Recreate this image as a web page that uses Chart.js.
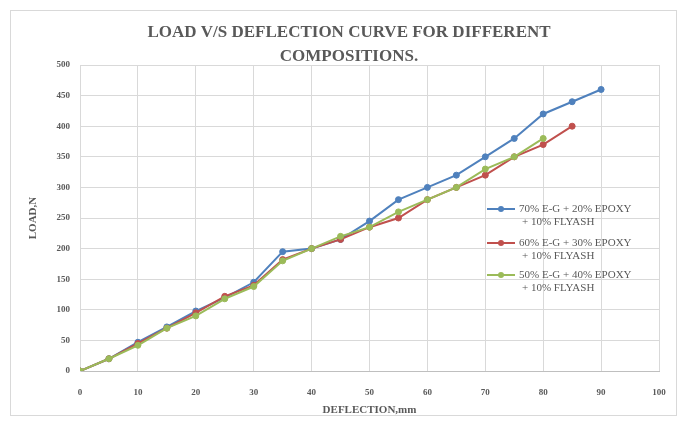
<!DOCTYPE html>
<html>
<head>
<meta charset="utf-8">
<title>Load vs Deflection</title>
<script src="https://cdn.jsdelivr.net/npm/chart.js@4/dist/chart.umd.min.js"></script>
<style>
  html, body { margin: 0; padding: 0; background: #ffffff; }
  #wrap { width: 686px; height: 425px; position: relative; }
</style>
</head>
<body>
<div id="wrap"><canvas id="chart" width="686" height="425"></canvas></div>
<script>
// Deflection (mm) at which each load reading was taken
const deflection = [0, 5, 10, 15, 20, 25, 30, 35, 40, 45, 50, 55, 60, 65, 70, 75, 80, 85, 90];

// Load (N) for each composition
const load70EG = [0, 20, 47, 72, 98, 120, 145, 195, 200, 215, 245, 280, 300, 320, 350, 380, 420, 440, 460];
const load60EG = [0, 20, 45, 70, 95, 122, 140, 182, 200, 215, 235, 250, 280, 300, 320, 350, 370, 400];
const load50EG = [0, 20, 42, 70, 90, 118, 138, 180, 200, 220, 235, 260, 280, 300, 330, 350, 380];

const seriesNames = [
  ['70% E-G + 20% EPOXY', '+ 10% FLYASH'],
  ['60% E-G + 30% EPOXY', '+ 10% FLYASH'],
  ['50% E-G + 40% EPOXY', '+ 10% FLYASH']
];
const seriesColors = ['#4F81BD', '#C0504D', '#9BBB59'];

const titleLines = ['LOAD V/S DEFLECTION CURVE FOR DIFFERENT', 'COMPOSITIONS.'];
const xTitle = 'DEFLECTION,mm';
const yTitle = 'LOAD,N';

const serif = "'Liberation Serif', 'Times New Roman', serif";
const textGray = '#595959';

function toPoints(values) {
  return values.map((v, i) => ({ x: deflection[i], y: v }));
}

// Chart frame, heading and the legend drawn over the plot
const framePlugin = {
  id: 'frame',
  beforeDraw(chart) {
    const ctx = chart.ctx;
    ctx.save();
    ctx.fillStyle = '#ffffff';
    ctx.fillRect(0, 0, chart.width, chart.height);
    ctx.strokeStyle = '#D9D9D9';
    ctx.lineWidth = 1;
    ctx.strokeRect(10.5, 10.5, 666, 405);
    ctx.fillStyle = textGray;
    ctx.font = 'bold 17px ' + serif;
    ctx.textAlign = 'center';
    ctx.textBaseline = 'middle';
    ctx.fillText(titleLines[0], 349, 33);
    ctx.fillText(titleLines[1], 349, 57);
    ctx.restore();
  },
  afterDraw(chart) {
    const ctx = chart.ctx;
    ctx.save();
    const rowY = [209, 243, 275];
    chart.data.datasets.forEach((ds, i) => {
      const y = rowY[i];
      ctx.strokeStyle = ds.borderColor;
      ctx.lineWidth = 2;
      ctx.beginPath();
      ctx.moveTo(487, y);
      ctx.lineTo(515, y);
      ctx.stroke();
      ctx.fillStyle = ds.backgroundColor;
      ctx.beginPath();
      ctx.arc(501, y, 3, 0, Math.PI * 2);
      ctx.fill();
      ctx.fillStyle = textGray;
      ctx.font = '11px ' + serif;
      ctx.textAlign = 'left';
      ctx.textBaseline = 'middle';
      seriesNames[i].forEach((line, j) => {
        ctx.fillText(line, j === 0 ? 519 : 522, y + j * 13);
      });
    });
    ctx.restore();
  }
};

const datasets = [load70EG, load60EG, load50EG].map((vals, i) => ({
  label: seriesNames[i].join(' '),
  data: toPoints(vals),
  borderColor: seriesColors[i],
  backgroundColor: seriesColors[i],
  pointBackgroundColor: seriesColors[i],
  pointBorderColor: seriesColors[i],
  pointRadius: 3,
  pointBorderWidth: 1,
  borderWidth: 2,
  tension: 0,
  order: 2 - i
}));

new Chart(document.getElementById('chart'), {
  type: 'line',
  data: { datasets },
  options: {
    responsive: false,
    animation: false,
    layout: { padding: { top: 65, right: 27, left: 0, bottom: 0 } },
    plugins: {
      legend: { display: false },
      title: { display: false },
      tooltip: { enabled: false }
    },
    scales: {
      x: {
        type: 'linear',
        min: 0,
        max: 100,
        ticks: {
          stepSize: 10,
          color: textGray,
          padding: 16,
          font: { family: serif, size: 9, weight: 'bold' }
        },
        grid: { color: '#D9D9D9', drawTicks: false },
        border: { color: '#BFBFBF' },
        title: {
          display: true,
          text: xTitle,
          color: textGray,
          font: { family: serif, size: 11, weight: 'bold' },
          padding: { top: 0, bottom: 8 }
        },
        afterFit(scale) { scale.height = 54; }
      },
      y: {
        min: 0,
        max: 500,
        ticks: {
          stepSize: 50,
          color: textGray,
          padding: 10,
          font: { family: serif, size: 9, weight: 'bold' }
        },
        grid: { color: '#D9D9D9', drawTicks: false },
        border: { color: '#D9D9D9' },
        title: {
          display: true,
          text: yTitle,
          color: textGray,
          font: { family: serif, size: 11, weight: 'bold' },
          padding: { top: 27, bottom: 0 }
        },
        afterFit(scale) { scale.width = 80; }
      }
    }
  },
  plugins: [framePlugin]
});
</script>
</body>
</html>
